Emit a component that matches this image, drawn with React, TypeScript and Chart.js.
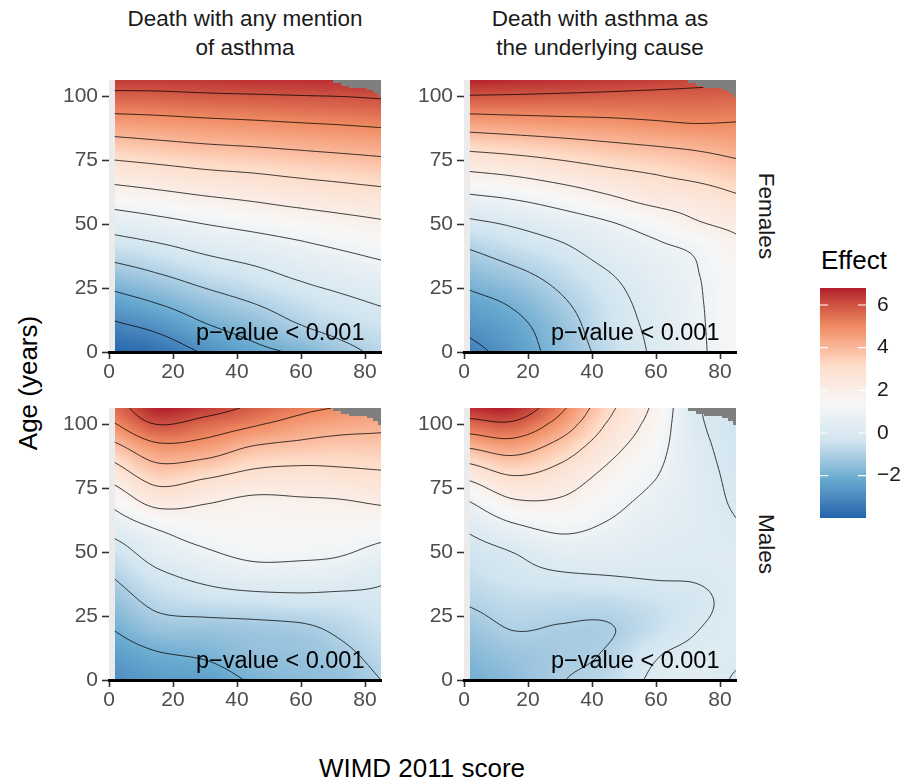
import React, { useEffect, useRef } from "react";
import { Chart, registerables } from "chart.js";

Chart.register(...registerables);

// ---- data -------------------------------------------------------------

// grid nodes: WIMD 2011 score (columns) and age in years (rows)
const wimdScores = [2, 15, 30, 45, 60, 72, 85];
const ages = [0, 10, 20, 30, 40, 50, 60, 70, 80, 90, 100, 107];

// estimated effect, one row per age node, one value per score node
const anyMentionFemales = [
  [-3.97, -3.64, -2.9, -2.27, -1.85, -1.3, -0.8],
  [-3.17, -2.78, -2.1, -1.6, -1.04, -0.7, -0.43],
  [-2.32, -1.91, -1.37, -0.94, -0.49, -0.18, 0.12],
  [-1.44, -1.07, -0.62, -0.27, 0.15, 0.42, 0.66],
  [-0.55, -0.25, 0.15, 0.45, 0.76, 1.0, 1.24],
  [0.41, 0.69, 1.0, 1.25, 1.48, 1.68, 1.87],
  [1.45, 1.66, 1.9, 2.1, 2.32, 2.46, 2.6],
  [2.46, 2.64, 2.86, 3.0, 3.18, 3.31, 3.47],
  [3.54, 3.7, 3.86, 3.97, 4.1, 4.2, 4.3],
  [4.63, 4.72, 4.84, 4.93, 5.03, 5.1, 5.2],
  [5.74, 5.77, 5.85, 5.9, 5.96, 6.0, 6.07],
  [6.45, 6.45, 6.5, 6.6, 6.6, 6.6, 6.6],
];

const underlyingFemales = [
  [-3.3, -2.6, -1.6, -0.7, 0.15, 0.8, 1.45],
  [-2.75, -2.3, -1.45, -0.5, 0.22, 0.83, 1.47],
  [-2.24, -1.85, -1.12, -0.35, 0.35, 0.87, 1.5],
  [-1.63, -1.25, -0.7, -0.07, 0.52, 0.93, 1.57],
  [-1.0, -0.6, -0.2, 0.4, 0.8, 1.1, 1.75],
  [-0.2, 0.08, 0.48, 0.9, 1.38, 1.88, 2.2],
  [0.82, 1.03, 1.4, 1.85, 2.3, 2.45, 2.85],
  [1.93, 2.13, 2.45, 2.78, 3.05, 3.3, 3.6],
  [3.2, 3.35, 3.55, 3.77, 3.95, 4.1, 4.3],
  [4.55, 4.65, 4.75, 4.83, 4.95, 5.05, 5.0],
  [5.93, 5.9, 5.85, 5.8, 5.75, 5.75, 5.7],
  [6.8, 6.7, 6.6, 6.5, 6.4, 6.25, 6.2],
];

const anyMentionMales = [
  [-2.9, -2.5, -2.45, -1.9, -1.6, -1.5, -1.0],
  [-2.45, -2.07, -1.88, -1.5, -1.4, -1.2, -0.72],
  [-1.95, -1.4, -1.35, -1.25, -1.15, -0.85, -0.45],
  [-1.47, -0.8, -0.55, -0.45, -0.35, -0.35, -0.18],
  [-0.96, -0.25, 0.2, 0.5, 0.5, 0.42, 0.12],
  [-0.43, 0.45, 0.9, 1.22, 1.2, 1.1, 0.75],
  [0.45, 1.1, 1.45, 1.5, 1.5, 1.5, 1.42],
  [1.33, 2.35, 2.1, 1.83, 1.9, 1.95, 2.12],
  [2.45, 3.45, 3.15, 2.75, 2.65, 2.75, 2.85],
  [3.6, 4.6, 4.45, 3.8, 3.6, 3.5, 3.55],
  [4.95, 6.0, 5.6, 5.1, 4.6, 4.35, 4.2],
  [5.6, 6.8, 6.5, 5.9, 5.3, 5.0, 4.7],
];

const underlyingMales = [
  [-2.0, -1.6, -1.05, -0.7, 0.2, 0.45, -0.1],
  [-1.7, -1.35, -1.15, -0.92, -0.08, 0.2, 0.15],
  [-1.35, -0.98, -1.05, -1.05, -0.55, -0.05, 0.25],
  [-0.94, -0.68, -0.7, -0.7, -0.45, -0.2, 0.25],
  [-0.6, -0.3, -0.15, -0.05, 0.04, 0.05, 0.2],
  [-0.35, 0.0, 0.5, 0.45, 0.28, 0.2, 0.15],
  [0.2, 0.85, 1.2, 0.9, 0.5, 0.3, 0.05],
  [1.04, 1.9, 1.9, 1.3, 0.75, 0.35, -0.1],
  [2.3, 3.0, 2.6, 1.75, 1.04, 0.35, -0.2],
  [3.9, 4.3, 3.5, 2.3, 1.32, 0.3, -0.3],
  [5.6, 5.8, 4.6, 2.9, 1.6, 0.2, -0.35],
  [6.7, 6.8, 5.3, 3.3, 1.8, 0.15, -0.4],
];

// cells without an estimate (upper right corner): score intervals and the age above which they are missing
const naEdgeScores = [70, 72.5, 75, 80.5, 82.5, 84, 85.5];
const naEdgeAges = [105.2, 104.2, 103.3, 102.5, 101.2, 99.8];

const contourLevels = [-3, -2, -1, 0, 1, 2, 3, 4, 5, 6];
const xTicks = [0, 20, 40, 60, 80];
const yTicks = [0, 25, 50, 75, 100];
const effectTicks = [-2, 0, 2, 4, 6];
const effectRange = [-3.97, 6.81];
const scoreRange = [0, 85];
const ageRange = [0, 106.4];
const dataMinScore = 1.8;
const rdBu = ["#2166ac", "#67a9cf", "#d1e5f0", "#f7f7f7", "#fddbc7", "#ef8a62", "#b2182b"];
const columnTitles = [
  ["Death with any mention", "of asthma"],
  ["Death with asthma as", "the underlying cause"],
];
const rowTitles = ["Females", "Males"];
const pValueLabel = "p\u2212value < 0.001";

// ---- styling ------------------------------------------------------------

const FONT = '"Liberation Sans", Arial, Helvetica, sans-serif';
const PANEL_BG = "#EBEBEB";
const NA_RGB = [127, 127, 127];
const PANEL_W = 272;
const PANEL_H = 272;
const AXIS_W = 60;
const AXIS_H = 40;
const PAD = 6;

Chart.defaults.font.family = FONT;

// ---- colour scale (CIELAB interpolation) ----------------------------------

function hexToRgb(h: string) {
  const n = parseInt(h.slice(1), 16);
  return [(n >> 16) & 255, (n >> 8) & 255, n & 255];
}
const toLin = (c: number) => {
  c /= 255;
  return c <= 0.04045 ? c / 12.92 : Math.pow((c + 0.055) / 1.055, 2.4);
};
const fromLin = (c: number) => {
  const v = c <= 0.0031308 ? 12.92 * c : 1.055 * Math.pow(Math.max(c, 0), 1 / 2.4) - 0.055;
  return Math.max(0, Math.min(255, Math.round(v * 255)));
};
const WX = 0.95047, WZ = 1.08883;
const fLab = (t: number) => (t > 0.008856 ? Math.cbrt(t) : 7.787 * t + 16 / 116);
const fInv = (t: number) => (t > 0.206893 ? t * t * t : (t - 16 / 116) / 7.787);
function rgbToLab(c: number[]) {
  const R = toLin(c[0]), G = toLin(c[1]), B = toLin(c[2]);
  const X = (0.4124 * R + 0.3576 * G + 0.1805 * B) / WX;
  const Y = 0.2126 * R + 0.7152 * G + 0.0722 * B;
  const Z = (0.0193 * R + 0.1192 * G + 0.9505 * B) / WZ;
  const fx = fLab(X), fy = fLab(Y), fz = fLab(Z);
  return [116 * fy - 16, 500 * (fx - fy), 200 * (fy - fz)];
}
function labToRgb(l: number[]) {
  const fy = (l[0] + 16) / 116, fx = fy + l[1] / 500, fz = fy - l[2] / 200;
  const X = fInv(fx) * WX, Y = fInv(fy), Z = fInv(fz) * WZ;
  const R = 3.2406 * X - 1.5372 * Y - 0.4986 * Z;
  const G = -0.9689 * X + 1.8758 * Y + 0.0415 * Z;
  const B = 0.0557 * X - 0.204 * Y + 1.057 * Z;
  return [fromLin(R), fromLin(G), fromLin(B)];
}
const LUT_N = 512;
const paletteLab = rdBu.map((h) => rgbToLab(hexToRgb(h)));
const colourLut: number[][] = [];
for (let i = 0; i < LUT_N; i++) {
  const t = (i / (LUT_N - 1)) * (paletteLab.length - 1);
  const k = Math.min(Math.floor(t), paletteLab.length - 2);
  const f = t - k;
  const a = paletteLab[k], b = paletteLab[k + 1];
  colourLut.push(labToRgb([a[0] + (b[0] - a[0]) * f, a[1] + (b[1] - a[1]) * f, a[2] + (b[2] - a[2]) * f]));
}
function colourOf(v: number) {
  const t = (v - effectRange[0]) / (effectRange[1] - effectRange[0]);
  const i = Math.round(Math.max(0, Math.min(1, t)) * (LUT_N - 1));
  return colourLut[i];
}

// ---- smooth surface through the grid nodes --------------------------------

function catmull(p0: number, p1: number, p2: number, p3: number, t: number) {
  return 0.5 * (2 * p1 + (-p0 + p2) * t + (2 * p0 - 5 * p1 + 4 * p2 - p3) * t * t + (-p0 + 3 * p1 - 3 * p2 + p3) * t * t * t);
}
function interp1(vals: number[], nodes: number[], v: number) {
  const n = nodes.length;
  let i = 0;
  while (i < n - 2 && v > nodes[i + 1]) i++;
  const t = (v - nodes[i]) / (nodes[i + 1] - nodes[i]);
  const p1 = vals[i], p2 = vals[i + 1];
  const p0 = i > 0 ? vals[i - 1] : 2 * p1 - p2;
  const p3 = i + 2 < n ? vals[i + 2] : 2 * p2 - p1;
  return catmull(p0, p1, p2, p3, t);
}
function isNA(x: number, a: number) {
  for (let i = 0; i < naEdgeAges.length; i++) {
    if (x >= naEdgeScores[i] && x < naEdgeScores[i + 1]) return a > naEdgeAges[i];
  }
  return false;
}

const SEGMENTS: Record<number, number[][]> = {
  1: [[3, 0]], 2: [[0, 1]], 3: [[3, 1]], 4: [[1, 2]], 6: [[0, 2]], 7: [[3, 2]],
  8: [[2, 3]], 9: [[0, 2]], 11: [[1, 2]], 12: [[1, 3]], 13: [[0, 1]], 14: [[0, 3]],
};

function surfacePlugin(grid: number[][]) {
  return {
    id: "effectSurface",
    beforeDraw(chart: any) {
      const { ctx, chartArea: ca, scales } = chart;
      const xs = scales.x, ys = scales.y;
      ctx.save();
      ctx.fillStyle = PANEL_BG;
      ctx.fillRect(ca.left, ca.top, ca.right - ca.left, ca.bottom - ca.top);

      // raster
      const px0 = Math.round(xs.getPixelForValue(dataMinScore));
      const px1 = Math.round(ca.right);
      const py0 = Math.round(ca.top), py1 = Math.round(ca.bottom);
      const w = px1 - px0, h = py1 - py0;
      const off = document.createElement("canvas");
      off.width = w;
      off.height = h;
      const octx = off.getContext("2d")!;
      const img = octx.createImageData(w, h);
      const ageAt = new Float64Array(h);
      for (let j = 0; j < h; j++) ageAt[j] = ys.getValueForPixel(py0 + j + 0.5);
      for (let i = 0; i < w; i++) {
        const sx = xs.getValueForPixel(px0 + i + 0.5);
        const column = grid.map((row) => interp1(row, wimdScores, sx));
        for (let j = 0; j < h; j++) {
          const a = ageAt[j];
          const c = isNA(sx, a) ? NA_RGB : colourOf(interp1(column, ages, a));
          const k = (j * w + i) * 4;
          img.data[k] = c[0];
          img.data[k + 1] = c[1];
          img.data[k + 2] = c[2];
          img.data[k + 3] = 255;
        }
      }
      octx.putImageData(img, 0, 0);
      ctx.drawImage(off, px0, py0);

      // contour lines (marching squares on a fine sample of the surface)
      const NX = 170, NY = 212;
      const sxv = new Float64Array(NX + 1), sav = new Float64Array(NY + 1);
      for (let i = 0; i <= NX; i++) sxv[i] = dataMinScore + ((scoreRange[1] - dataMinScore) * i) / NX;
      for (let j = 0; j <= NY; j++) sav[j] = ageRange[0] + ((ageRange[1] - ageRange[0]) * j) / NY;
      const F = new Float64Array((NX + 1) * (NY + 1));
      const M = new Uint8Array((NX + 1) * (NY + 1));
      for (let i = 0; i <= NX; i++) {
        const column = grid.map((row) => interp1(row, wimdScores, sxv[i]));
        for (let j = 0; j <= NY; j++) {
          F[j * (NX + 1) + i] = interp1(column, ages, sav[j]);
          M[j * (NX + 1) + i] = isNA(sxv[i], sav[j]) ? 1 : 0;
        }
      }
      ctx.beginPath();
      ctx.rect(ca.left, ca.top, ca.right - ca.left, ca.bottom - ca.top);
      ctx.clip();
      ctx.strokeStyle = "rgba(0,0,0,0.92)";
      ctx.lineWidth = 0.85;
      for (const lvl of contourLevels) {
        ctx.beginPath();
        for (let j = 0; j < NY; j++) {
          for (let i = 0; i < NX; i++) {
            const k0 = j * (NX + 1) + i, k1 = k0 + 1, k3 = k0 + NX + 1, k2 = k3 + 1;
            if (M[k0] || M[k1] || M[k2] || M[k3]) continue;
            const v = [F[k0], F[k1], F[k2], F[k3]];
            const idx = (v[0] > lvl ? 1 : 0) | (v[1] > lvl ? 2 : 0) | (v[2] > lvl ? 4 : 0) | (v[3] > lvl ? 8 : 0);
            if (idx === 0 || idx === 15) continue;
            let segs = SEGMENTS[idx];
            if (idx === 5 || idx === 10) {
              const centreAbove = (v[0] + v[1] + v[2] + v[3]) / 4 > lvl;
              const cutC1C3 = [[0, 1], [2, 3]];
              const cutC0C2 = [[3, 0], [1, 2]];
              segs = idx === 5 ? (centreAbove ? cutC1C3 : cutC0C2) : centreAbove ? cutC0C2 : cutC1C3;
            }
            const edgePoint = (e: number) => {
              let x = 0, a = 0, t = 0;
              if (e === 0) { t = (lvl - v[0]) / (v[1] - v[0]); x = sxv[i] + t * (sxv[i + 1] - sxv[i]); a = sav[j]; }
              else if (e === 1) { t = (lvl - v[1]) / (v[2] - v[1]); x = sxv[i + 1]; a = sav[j] + t * (sav[j + 1] - sav[j]); }
              else if (e === 2) { t = (lvl - v[2]) / (v[3] - v[2]); x = sxv[i + 1] + t * (sxv[i] - sxv[i + 1]); a = sav[j + 1]; }
              else { t = (lvl - v[3]) / (v[0] - v[3]); x = sxv[i]; a = sav[j + 1] + t * (sav[j] - sav[j + 1]); }
              return [xs.getPixelForValue(x), ys.getPixelForValue(a)];
            };
            for (const s of segs) {
              const p = edgePoint(s[0]), q = edgePoint(s[1]);
              ctx.moveTo(p[0], p[1]);
              ctx.lineTo(q[0], q[1]);
            }
          }
        }
        ctx.stroke();
      }

      // significance label
      ctx.fillStyle = "#000000";
      ctx.font = `23.5px ${FONT}`;
      ctx.textAlign = "center";
      ctx.textBaseline = "alphabetic";
      ctx.fillText(pValueLabel, xs.getPixelForValue(53.5), ys.getPixelForValue(4.8));
      ctx.restore();
    },
  };
}

// ---- components -----------------------------------------------------------

function Panel({ grid, left, top }: { grid: number[][]; left: number; top: number }) {
  const ref = useRef<HTMLCanvasElement>(null);
  useEffect(() => {
    const tickFont = { size: 21, family: FONT };
    const grid2 = { display: true, drawOnChartArea: false, drawTicks: true, tickLength: 7, tickColor: "#333333", tickWidth: 1.6 };
    const chart = new Chart(ref.current!, {
      type: "scatter",
      data: { datasets: [{ data: [] }] },
      options: {
        animation: false,
        responsive: false,
        events: [],
        layout: { autoPadding: false, padding: { left: 0, top: PAD, right: PAD, bottom: 0 } },
        plugins: { legend: { display: false }, tooltip: { enabled: false } },
        scales: {
          x: {
            type: "linear",
            min: scoreRange[0],
            max: scoreRange[1],
            afterBuildTicks: (s: any) => { s.ticks = xTicks.map((v) => ({ value: v })); },
            afterFit: (s: any) => { s.height = AXIS_H; s.paddingLeft = 0; s.paddingRight = 0; },
            ticks: { color: "#4D4D4D", font: tickFont, padding: 1, maxRotation: 0, autoSkip: false },
            grid: grid2,
            border: { display: true, color: "#000000", width: 3, z: 1 },
          },
          y: {
            type: "linear",
            min: ageRange[0],
            max: ageRange[1],
            afterBuildTicks: (s: any) => { s.ticks = yTicks.map((v) => ({ value: v })); },
            afterFit: (s: any) => { s.width = AXIS_W; s.paddingTop = 0; s.paddingBottom = 0; },
            ticks: { color: "#4D4D4D", font: tickFont, padding: 4, autoSkip: false },
            grid: grid2,
            border: { display: false },
          },
        },
      } as any,
      plugins: [surfacePlugin(grid)],
    });
    return () => chart.destroy();
  }, [grid]);
  const cw = AXIS_W + PANEL_W + PAD, ch = PAD + PANEL_H + AXIS_H;
  return (
    <canvas
      ref={ref}
      width={cw}
      height={ch}
      style={{ position: "absolute", left: left - AXIS_W, top: top - PAD, width: cw, height: ch }}
    />
  );
}

function colourBarPlugin() {
  return {
    id: "colourBar",
    beforeDraw(chart: any) {
      const { ctx, chartArea: ca, scales } = chart;
      const ys = scales.y;
      const t = Math.round(ca.top), b = Math.round(ca.bottom);
      ctx.save();
      for (let py = t; py < b; py++) {
        const c = colourOf(ys.getValueForPixel(py + 0.5));
        ctx.fillStyle = `rgb(${c[0]},${c[1]},${c[2]})`;
        ctx.fillRect(ca.left, py, ca.right - ca.left, 1);
      }
      ctx.strokeStyle = "#FFFFFF";
      ctx.lineWidth = 1.2;
      for (const v of effectTicks) {
        const py = ys.getPixelForValue(v);
        ctx.beginPath();
        ctx.moveTo(ca.left, py);
        ctx.lineTo(ca.left + 8, py);
        ctx.moveTo(ca.right - 8, py);
        ctx.lineTo(ca.right, py);
        ctx.stroke();
      }
      ctx.restore();
    },
  };
}

function EffectLegend() {
  const ref = useRef<HTMLCanvasElement>(null);
  useEffect(() => {
    const chart = new Chart(ref.current!, {
      type: "scatter",
      data: { datasets: [{ data: [] }] },
      options: {
        animation: false,
        responsive: false,
        events: [],
        layout: { autoPadding: false, padding: { left: 20, top: 7.7, right: 0, bottom: 12.3 } },
        plugins: { legend: { display: false }, tooltip: { enabled: false } },
        scales: {
          x: { display: false, min: 0, max: 1 },
          y: {
            position: "right",
            min: effectRange[0],
            max: effectRange[1],
            afterBuildTicks: (s: any) => { s.ticks = effectTicks.map((v) => ({ value: v })); },
            afterFit: (s: any) => { s.width = 44; s.paddingTop = 0; s.paddingBottom = 0; },
            ticks: {
              color: "#1A1A1A",
              font: { size: 21, family: FONT },
              padding: 11,
              callback: (v: any) => (Number(v) < 0 ? "\u2212" + Math.abs(Number(v)) : String(v)),
            },
            grid: { display: false, drawTicks: false },
            border: { display: false },
          },
        },
      } as any,
      plugins: [colourBarPlugin()],
    });
    return () => chart.destroy();
  }, []);
  return <canvas ref={ref} width={110} height={250} style={{ position: "absolute", left: 800, top: 280, width: 110, height: 250 }} />;
}

const panels = [
  { key: "fa", grid: anyMentionFemales, left: 109, top: 80 },
  { key: "fu", grid: underlyingFemales, left: 464, top: 80 },
  { key: "ma", grid: anyMentionMales, left: 109, top: 408 },
  { key: "mu", grid: underlyingMales, left: 464, top: 408 },
];

const centred = (x: number, y: number, rotate = 0): React.CSSProperties => ({
  position: "absolute",
  left: x,
  top: y,
  transform: `translate(-50%, -50%)${rotate ? ` rotate(${rotate}deg)` : ""}`,
  whiteSpace: "nowrap",
});

export default function App() {
  return (
    <div style={{ position: "absolute", left: 0, top: 0, width: 914, height: 780, background: "#FFFFFF", fontFamily: FONT, overflow: "hidden" }}>
      {panels.map((p) => (
        <Panel key={p.key} grid={p.grid} left={p.left} top={p.top} />
      ))}
      <EffectLegend />
      {columnTitles.map((lines, i) => (
        <div
          key={lines[0]}
          style={{ position: "absolute", left: (i === 0 ? 245 : 600) - 160, top: 4, width: 320, textAlign: "center", fontSize: 22.5, lineHeight: "29px", color: "#1A1A1A" }}
        >
          {lines[0]}
          <br />
          {lines[1]}
        </div>
      ))}
      {rowTitles.map((t, i) => (
        <div key={t} style={{ ...centred(766, i === 0 ? 216 : 544, 90), fontSize: 22.5, color: "#1A1A1A" }}>
          {t}
        </div>
      ))}
      <div style={{ ...centred(28, 383, -90), fontSize: 26, color: "#000000" }}>Age (years)</div>
      <div style={{ ...centred(422, 768), fontSize: 26, color: "#000000" }}>WIMD 2011 score</div>
      <div style={{ position: "absolute", left: 821, top: 245, fontSize: 26, lineHeight: "30px", color: "#000000" }}>Effect</div>
    </div>
  );
}
